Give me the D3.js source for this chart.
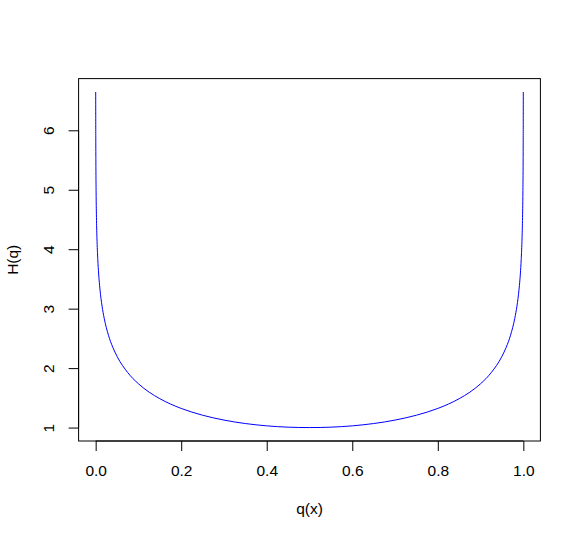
<!DOCTYPE html>
<html>
<head>
<meta charset="utf-8">
<script src="https://cdn.jsdelivr.net/npm/d3@7"></script>
<style>
  body { margin: 0; background: #ffffff; }
  text { font-family: "Liberation Sans", Arial, sans-serif; font-size: 15.5px; fill: #000; }
</style>
</head>
<body>
<div id="chart"></div>
<script>
// values, left half and right half
var qLeft = [0.0001, 0.0002, 0.0003, 0.0005, 0.001, 0.002, 0.003, 0.005, 0.007, 0.01,
    0.015, 0.02, 0.03, 0.04, 0.05, 0.075, 0.1, 0.125, 0.15, 0.175, 0.2, 0.25, 0.3, 0.35, 0.4, 0.45, 0.5];
var hLeft = [6.644, 6.144, 5.852, 5.483, 4.984, 4.484, 4.192, 3.826, 3.584, 3.329,
    3.041, 2.837, 2.552, 2.351, 2.198, 1.925, 1.737, 1.596, 1.486, 1.396, 1.322, 1.208, 1.126, 1.068, 1.029, 1.007, 1.000];
var qRight = [0.55, 0.6, 0.65, 0.7, 0.75, 0.8, 0.825, 0.85, 0.875, 0.9, 0.925, 0.95, 0.96, 0.97,
    0.98, 0.985, 0.99, 0.993, 0.995, 0.997, 0.998, 0.999, 0.9995, 0.9997, 0.9998, 0.9999];
var hRight = [1.007, 1.029, 1.068, 1.126, 1.208, 1.322, 1.396, 1.486, 1.596, 1.737, 1.925, 2.198, 2.351, 2.552,
    2.837, 3.041, 3.329, 3.584, 3.826, 4.192, 4.484, 4.984, 5.483, 5.852, 6.144, 6.644];

var xTicks = [0, 0.2, 0.4, 0.6, 0.8, 1.0];
var xTickLabels = ["0.0", "0.2", "0.4", "0.6", "0.8", "1.0"];
var yTicks = [1, 2, 3, 4, 5, 6];
var yTickLabels = ["1", "2", "3", "4", "5", "6"];

var xTitle = "q(x)";
var yTitle = "H(q)";

// svg area
var svgWidth = 581;
var svgHeight = 539;

var plot = { left: 78.6, right: 540.4, top: 78.6, bottom: 441 };

var data = qLeft.map((q, i) => ({ q: q, h: hLeft[i] }))
    .concat(qRight.map((q, i) => ({ q: q, h: hRight[i] })));

var svg = d3.select("#chart")
    .append("svg")
    .attr("width", svgWidth)
    .attr("height", svgHeight);

svg.append("rect")
    .attr("width", svgWidth)
    .attr("height", svgHeight)
    .attr("fill", "#ffffff");

// R style 4% padding around the data range
var xMin = d3.min(data, d => d.q), xMax = d3.max(data, d => d.q);
var yMin = d3.min(data, d => d.h), yMax = d3.max(data, d => d.h);
var xPad = (xMax - xMin) * 0.04, yPad = (yMax - yMin) * 0.04;

var xScale = d3.scaleLinear()
    .domain([xMin - xPad, xMax + xPad])
    .range([plot.left, plot.right]);

var yScale = d3.scaleLinear()
    .domain([yMin - yPad, yMax + yPad])
    .range([plot.bottom, plot.top]);

// curve
var line = d3.line()
    .x(d => xScale(d.q))
    .y(d => yScale(d.h))
    .curve(d3.curveMonotoneX);

svg.append("path")
    .datum(data)
    .attr("d", line)
    .attr("fill", "none")
    .attr("stroke", "#0000ff")
    .attr("stroke-width", 1);

// axes
var bottomAxis = d3.axisBottom(xScale)
    .tickValues(xTicks)
    .tickSize(10)
    .tickSizeOuter(0)
    .tickFormat((d, i) => xTickLabels[i]);

var xAxisG = svg.append("g")
    .attr("transform", `translate(0, ${plot.bottom})`)
    .call(bottomAxis);
xAxisG.select(".domain").remove();
xAxisG.append("line")
    .attr("x1", xScale(xTicks[0])).attr("x2", xScale(xTicks[xTicks.length - 1]))
    .attr("stroke", "#000");
xAxisG.selectAll("text")
    .attr("y", 35.2)
    .attr("dy", null)
    .attr("font-size", null)
    .attr("font-family", null);

var leftAxis = d3.axisLeft(yScale)
    .tickValues(yTicks)
    .tickSize(10)
    .tickSizeOuter(0)
    .tickFormat((d, i) => yTickLabels[i]);

var yAxisG = svg.append("g")
    .attr("transform", `translate(${plot.left}, 0)`)
    .call(leftAxis);
yAxisG.select(".domain").remove();
yAxisG.append("line")
    .attr("y1", yScale(yTicks[0])).attr("y2", yScale(yTicks[yTicks.length - 1]))
    .attr("stroke", "#000");
yAxisG.selectAll("text")
    .attr("x", null)
    .attr("dy", null)
    .attr("text-anchor", "middle")
    .attr("transform", "translate(-24.6, 0) rotate(-90)")
    .attr("font-size", null)
    .attr("font-family", null);

svg.selectAll(".tick line").attr("stroke", "#000");

// plot box
svg.append("rect")
    .attr("x", plot.left)
    .attr("y", plot.top)
    .attr("width", plot.right - plot.left)
    .attr("height", plot.bottom - plot.top)
    .attr("fill", "none")
    .attr("stroke", "#000")
    .attr("stroke-width", 1);

// axis titles
svg.append("text")
    .attr("x", (plot.left + plot.right) / 2)
    .attr("y", 514)
    .attr("text-anchor", "middle")
    .text(xTitle);

svg.append("text")
    .attr("transform", `translate(17.8, ${(plot.top + plot.bottom) / 2}) rotate(-90)`)
    .attr("text-anchor", "middle")
    .text(yTitle);
</script>
</body>
</html>
